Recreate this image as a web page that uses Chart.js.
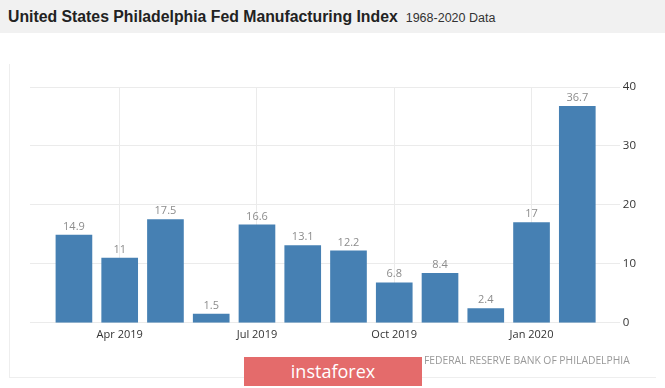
<!DOCTYPE html>
<html>
<head>
<meta charset="utf-8">
<script src="https://cdn.jsdelivr.net/npm/chart.js@4"></script>
<style>
  body { margin: 0; width: 665px; height: 388px; background: #fff; position: relative; overflow: hidden; font-family: "Liberation Sans", Arial, sans-serif; }
  #header { position: absolute; left: 0; top: 0; width: 665px; height: 33px; background: #f1f1f1; }
  #title { position: absolute; left: 8px; top: 8px; font-size: 15.8px; font-weight: bold; color: #222; white-space: nowrap; }
  #title span { font-size: 12.5px; font-weight: normal; margin-left: 8px; color: #333; }
  #panel { position: absolute; left: 9px; top: 64px; width: 646px; height: 313px; border-left: 1px solid #eee; border-bottom: 1px solid #eee; }
  #wrap { position: absolute; left: 0; top: 0; width: 665px; height: 388px; }
  #source { position: absolute; left: 424px; top: 353px; font-family: "Open Sans", sans-serif; font-size: 10.3px; color: #999; white-space: nowrap; }
  #logo { position: absolute; left: 244px; top: 357px; width: 178px; height: 29px; background: #e46b6b; color: #fff; font-family: "Open Sans", sans-serif; font-size: 18px; line-height: 29px; text-align: center; }
</style>
</head>
<body>
<div id="header"><div id="title">United States Philadelphia Fed Manufacturing Index<span>1968-2020 Data</span></div></div>
<div id="panel"></div>
<div id="wrap"><canvas id="chart" width="665" height="388"></canvas></div>
<div id="source">FEDERAL RESERVE BANK OF PHILADELPHIA</div>
<div id="logo">instaforex</div>
<script>
// Monthly readings, Mar 2019 - Feb 2020
const months = ["Mar 2019", "Apr 2019", "May 2019", "Jun 2019", "Jul 2019", "Aug 2019",
  "Sep 2019", "Oct 2019", "Nov 2019", "Dec 2019", "Jan 2020", "Feb 2020"];
const values = [14.9, 11, 17.5, 1.5, 16.6, 13.1, 12.2, 6.8, 8.4, 2.4, 17, 36.7];
const valueLabels = ["14.9", "11", "17.5", "1.5", "16.6", "13.1", "12.2", "6.8", "8.4", "2.4", "17", "36.7"];
// months that get an axis label
const tickMonths = ["Apr 2019", "Jul 2019", "Oct 2019", "Jan 2020"];
const yTicks = [0, 10, 20, 30, 40];

const points = values.map((v, i) => ({ x: i, y: v }));

// value labels above bars
const barLabels = {
  id: "barLabels",
  afterDatasetsDraw(chart) {
    const ctx = chart.ctx;
    const meta = chart.getDatasetMeta(0);
    ctx.save();
    ctx.font = "11px 'Open Sans', sans-serif";
    ctx.fillStyle = "#8c8c8c";
    ctx.textAlign = "center";
    ctx.textBaseline = "bottom";
    meta.data.forEach((bar, i) => {
      ctx.fillText(valueLabels[i], bar.x, bar.y - 3);
    });
    ctx.restore();
  }
};

new Chart(document.getElementById("chart"), {
  type: "bar",
  data: {
    datasets: [{
      data: points,
      backgroundColor: "#4680b3",
      barThickness: 36
    }]
  },
  options: {
    responsive: false,
    animation: false,
    layout: { padding: { left: 30, right: 26, top: 87, bottom: 42 } },
    plugins: { legend: { display: false }, tooltip: { enabled: false } },
    scales: {
      x: {
        type: "linear",
        min: -0.96,
        max: 11.93,
        offset: false,
        afterBuildTicks(axis) {
          axis.ticks = tickMonths.map(m => ({ value: months.indexOf(m) }));
        },
        ticks: {
          callback: (v) => months[v],
          color: "#333",
          font: { family: "'Open Sans', sans-serif", size: 11 },
          padding: 5,
          maxRotation: 0,
          autoSkip: false
        },
        grid: { color: "#ebebeb", drawTicks: false, offset: false },
        border: { display: false }
      },
      y: {
        position: "right",
        min: 0,
        max: 40,
        afterBuildTicks(axis) {
          axis.ticks = yTicks.map(v => ({ value: v }));
        },
        ticks: {
          color: "#333",
          font: { family: "'Open Sans', sans-serif", size: 11.5 },
          padding: 3
        },
        grid: { color: "#ebebeb", drawTicks: false },
        border: { display: false }
      }
    }
  },
  plugins: [barLabels]
});
</script>
</body>
</html>
